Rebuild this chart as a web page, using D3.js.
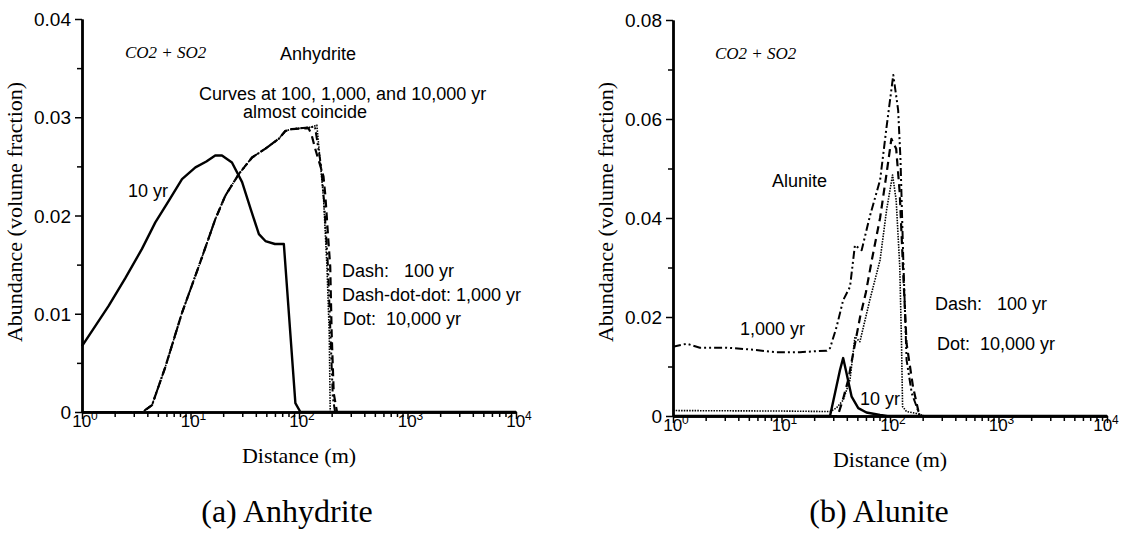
<!DOCTYPE html>
<html>
<head>
<meta charset="utf-8">
<script src="https://cdn.jsdelivr.net/npm/d3@7"></script>
<style>
  body { margin: 0; background: #fff; }
  svg text { white-space: pre; }
  .sans { font-family: "Liberation Sans", Arial, Helvetica, sans-serif; }
  .serif { font-family: "Liberation Serif", "Times New Roman", serif; }
</style>
</head>
<body>
<div id="chart"></div>
<script>
// distances (m) and abundances (volume fraction)

// (a) anhydrite
const anhy10yr = [[1,0.0067],[1.76,0.0108],[2.5,0.0136],[3.57,0.0166],[4.74,0.0193],[6.3,0.0215],[8.35,0.0237],
  [11.1,0.0249],[14,0.0255],[16.9,0.0261],[19.5,0.0261],[24.1,0.0254],[29.9,0.0234],[36,0.0206],[42.7,0.0181],
  [49,0.0174],[60,0.0171],[72.5,0.0171],[92.6,0.0009],[103,0],[10000,0]];
const anhyRise = [[1,0],[3.6,0],[4.42,0.0007],[5.87,0.0046],[8.35,0.0101],[11.9,0.0148],[16.9,0.0196],[20.9,0.0220],
  [27.8,0.0242],[36.9,0.0259],[49,0.0268],[65,0.0278],[74.8,0.0286],[86,0.0288]];
const anhy100yrTail = [[122,0.0289],[130,0.0283],[141,0.0268],[150,0.0258],[168,0.0240],[175,0.0220],[185,0.0180],
  [194,0.0148],[200,0.0080],[209,0.0019],[224,0],[10000,0]];
const anhy1000yrTail = [[131,0.0290],[140,0.0291],[160,0.0250],[170,0.0215],[185,0.0148],[195,0.0080],[205,0.0015],
  [215,0],[10000,0]];
const anhy10000yrTail = [[131,0.0290],[146,0.0292],[158,0.0251],[168.5,0.0217],[181,0.0148],[190,0.0080],[194,0],[10000,0]];

// (b) alunite
const alu10yr = [[1,0],[28,0],[31.1,0.0046],[34.6,0.0093],[37,0.0117],[39.8,0.0086],[44.3,0.0039],[51,0.0016],
  [60.7,0.0007],[81,0.0002],[95,0],[10000,0]];
const alu100yr = [[1,0],[33,0],[37,0.0035],[41.2,0.0073],[47,0.0140],[53,0.0200],[60,0.0250],[68,0.0315],[81,0.0400],
  [93,0.0490],[103,0.0560],[114,0.0540],[123,0.0450],[133,0.0280],[142,0.0147],[163,0.0059],[183,0.0009],[195,0],[10000,0]];
const alu1000yr = [[1,0.0140],[1.34,0.0146],[1.77,0.0138],[3.12,0.0138],[4.78,0.0135],[9,0.0129],[14.8,0.0129],
  [26.1,0.0132],[28,0.0137],[32.2,0.0180],[37,0.0234],[42.8,0.0261],[47.5,0.0345],[54.8,0.0335],[65.1,0.0403],
  [81.1,0.0477],[93,0.0584],[107.2,0.0689],[118.9,0.0618],[125,0.0517],[132.6,0.0315],[142.2,0.0113],[158.7,0.0046],
  [189,0],[10000,0]];
const alu10000yr = [[1,0.0011],[10,0.0010],[28,0.0009],[32,0.0016],[37,0.0032],[42.8,0.0073],[47.5,0.0160],[52.8,0.0150],
  [65.1,0.0234],[81,0.0315],[93,0.0416],[105.6,0.0487],[114,0.0436],[123,0.0302],[127.7,0.0147],[130.6,0.0019],
  [142,0.0009],[176,0.0005],[210,0],[10000,0]];

const decades = [1, 10, 100, 1000, 10000];
const anhyYTicks = [0, 0.01, 0.02, 0.03, 0.04];
const aluYTicks = [0, 0.02, 0.04, 0.06, 0.08];

const width = 1121, height = 533;
const svg = d3.select("#chart").append("svg")
  .attr("width", width)
  .attr("height", height)
  .style("background", "#fff");

const styles = {
  solid: {w: 2.4, dash: null},
  dash: {w: 2.2, dash: "8,5"},
  dashdotdot: {w: 2.0, dash: "8,3,2,3,2,3"},
  dot: {w: 1.6, dash: "1.5,1.2"}
};

function drawPanel(p) {
  const x = d3.scaleLog().domain([1, 10000]).range([p.left, p.right]);
  const y = d3.scaleLinear().domain([0, p.ymax]).range([p.bottom, p.top]);
  const g = svg.append("g");

  // minor x ticks 2..9 in each decade
  const minorX = [];
  decades.slice(0, -1).forEach(d => { for (let k = 2; k < 10; k++) minorX.push(d * k); });
  const minorY = p.yTicks.slice(0, -1).map((t, i) => (t + p.yTicks[i + 1]) / 2);

  const xMinor = g.append("g").attr("transform", `translate(0,${p.bottom})`)
    .call(d3.axisBottom(x).tickValues(minorX).tickSize(5).tickSizeOuter(0).tickFormat(""));
  const xMajor = g.append("g").attr("transform", `translate(0,${p.bottom})`)
    .call(d3.axisBottom(x).tickValues(decades).tickSize(7).tickSizeOuter(0).tickFormat(""));
  const yMinor = g.append("g").attr("transform", `translate(${p.left},0)`)
    .call(d3.axisLeft(y).tickValues(minorY).tickSize(5).tickSizeOuter(0).tickFormat(""));
  const yMajor = g.append("g").attr("transform", `translate(${p.left},0)`)
    .call(d3.axisLeft(y).tickValues(p.yTicks).tickSize(7).tickSizeOuter(0)
      .tickFormat(d => d === 0 ? "0" : d.toFixed(2)));

  [xMinor, xMajor, yMinor, yMajor].forEach(a => {
    a.select(".domain").attr("stroke", "#000").attr("stroke-width", 2.4);
    a.selectAll(".tick line").attr("stroke", "#000").attr("stroke-width", 1.5);
  });
  yMajor.selectAll(".tick text")
    .attr("class", "sans")
    .attr("font-size", 19)
    .attr("fill", "#000")
    .attr("x", -11)
    .attr("dy", "0.35em");

  // decade labels with superscript exponents
  const lbl = g.selectAll("text.xlab").data(decades).join("text")
    .attr("class", "sans")
    .attr("x", d => Math.min(x(d) + 3, width - 15))
    .attr("y", p.bottom + 15)
    .attr("text-anchor", "middle")
    .attr("font-size", 17);
  lbl.append("tspan").text("10");
  lbl.append("tspan").attr("font-size", 12).attr("dy", -7).text(d => Math.round(Math.log10(d)));

  const line = d3.line().x(d => x(d[0])).y(d => y(d[1]));
  p.series.forEach(s => {
    const st = styles[s.style];
    g.append("path")
      .datum(s.data)
      .attr("d", line)
      .attr("fill", "none")
      .attr("stroke", "#000")
      .attr("stroke-width", st.w)
      .attr("stroke-linejoin", "round")
      .attr("stroke-dasharray", st.dash);
  });

  // axis titles
  g.append("text").attr("class", "serif")
    .attr("x", (p.left + p.right) / 2).attr("y", p.bottom + 51)
    .attr("text-anchor", "middle").attr("font-size", 22)
    .text("Distance (m)");
  g.append("text").attr("class", "serif")
    .attr("transform", `translate(${p.yLabelX},${212}) rotate(-90)`)
    .attr("text-anchor", "middle").attr("font-size", 22)
    .text("Abundance (volume fraction)");
  g.append("text").attr("class", "serif")
    .attr("x", p.captionX).attr("y", 522)
    .attr("text-anchor", "middle").attr("font-size", 32)
    .text(p.caption);

  p.notes.forEach(n => {
    g.append("text")
      .attr("class", n.italic ? "serif" : "sans")
      .attr("font-style", n.italic ? "italic" : null)
      .attr("x", n.x).attr("y", n.y)
      .attr("font-size", n.size || 18)
      .text(n.t);
  });
}

drawPanel({
  left: 82, right: 516, top: 19, bottom: 412, ymax: 0.04, yTicks: anhyYTicks,
  yLabelX: 22, caption: "(a) Anhydrite", captionX: 287,
  series: [
    {style: "dot", data: anhyRise.concat(anhy10000yrTail)},
    {style: "dashdotdot", data: anhyRise.concat(anhy1000yrTail)},
    {style: "dash", data: anhyRise.concat(anhy100yrTail)},
    {style: "solid", data: anhy10yr}
  ],
  notes: [
    {t: "CO2 + SO2", x: 125, y: 58, italic: true, size: 17},
    {t: "Anhydrite", x: 280, y: 60},
    {t: "Curves at 100, 1,000, and 10,000 yr", x: 199, y: 100},
    {t: "almost coincide", x: 243, y: 118},
    {t: "10 yr", x: 128, y: 197},
    {t: "Dash:   100 yr", x: 342, y: 277},
    {t: "Dash-dot-dot: 1,000 yr", x: 342, y: 301},
    {t: "Dot:  10,000 yr", x: 343, y: 325}
  ]
});

drawPanel({
  left: 673, right: 1107, top: 20, bottom: 416, ymax: 0.08, yTicks: aluYTicks,
  yLabelX: 613, caption: "(b) Alunite", captionX: 879,
  series: [
    {style: "dot", data: alu10000yr},
    {style: "dashdotdot", data: alu1000yr},
    {style: "dash", data: alu100yr},
    {style: "solid", data: alu10yr}
  ],
  notes: [
    {t: "CO2 + SO2", x: 715, y: 59, italic: true, size: 17},
    {t: "Alunite", x: 772, y: 187},
    {t: "1,000 yr", x: 740, y: 335},
    {t: "10 yr", x: 860, y: 405},
    {t: "Dash:   100 yr", x: 935, y: 310},
    {t: "Dot:  10,000 yr", x: 937, y: 350}
  ]
});
</script>
</body>
</html>
